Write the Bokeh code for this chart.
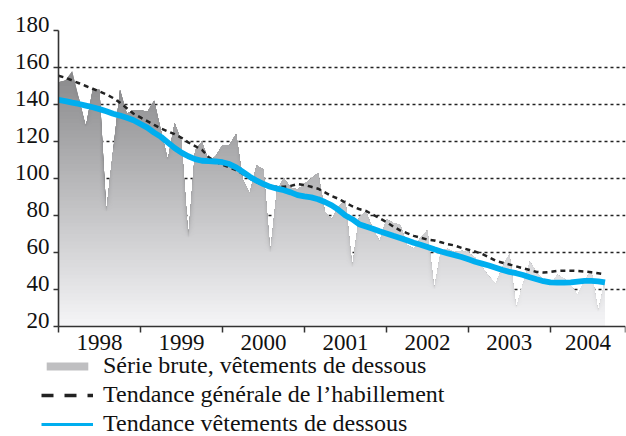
import numpy as np
from bokeh.plotting import figure
from bokeh.models import FixedTicker, Legend, LegendItem, Range1d, LinearAxis
from bokeh.embed import file_html
from bokeh.resources import INLINE

# ---- data (monthly, Jan 1998 .. Sep 2004) ----
years = ["1998", "1999", "2000", "2001", "2002", "2003", "2004"]
y_ticks = [20, 40, 60, 80, 100, 120, 140, 160, 180]

raw_underwear = [
    152, 153, 158, 143, 128, 148, 148, 82, 115, 148, 135, 137,
    137, 136, 142, 126, 110, 130, 120, 68, 115, 120, 109, 112,
    118, 118, 124, 99, 92, 107, 105, 60, 94, 100, 95, 94,
    97, 100, 103, 82, 78, 85, 88, 52, 79, 82, 73, 66,
    78, 76, 75, 64, 62, 68, 72, 40, 61, 62, 60, 61,
    60, 57, 52, 47, 43, 52, 59, 30, 43, 55, 49, 45,
    42, 48, 46, 42, 37, 45, 50, 28, 45,
]
trend_clothing = [
    155.5, 154.5, 153, 151.5, 150, 148.5, 147, 145.5, 143.5, 141, 138, 135,
    133, 131, 129, 127, 125.5, 124, 122, 119.5, 117.5, 115.5, 111.5, 109,
    107.5, 106, 104.5, 102.5, 100, 98, 96.5, 95.5, 95.5, 95.5, 96, 97,
    96.5, 95.5, 94.5, 92.5, 90.5, 89, 87, 85, 83.5, 82.5, 80.5, 78.5,
    76.5, 74, 72, 70.5, 69, 68, 67, 66.5, 65.5, 64.5, 63.8, 62.5,
    61.5, 60.5, 59.2, 57.5, 55.5, 54.5, 53.5, 52.5, 51.5, 50.5, 49.5, 49.2,
    49.5, 50, 50.2, 50.2, 50, 49.7, 49.3, 48.8, 48.2,
]
trend_underwear = [
    142.5, 141.8, 141, 140.3, 139.4, 138.5, 137.5, 136.3, 135, 134, 132.8, 131.5,
    129.5, 127.5, 124.8, 122.5, 119.5, 116.5, 114, 112, 110.5, 109.6, 109.4, 109.2,
    108.8, 107.8, 106, 103.5, 101, 98.8, 97, 95.5, 94.5, 93.7, 92.5, 91,
    90.3, 89.8, 88.8, 87.3, 85.5, 83, 80, 78, 75.3, 74, 72.8, 71.5,
    70.3, 69, 67.8, 66.6, 65.3, 64.2, 63, 61.7, 60.5, 59.5, 58.6, 57.6,
    56.3, 55, 54, 53, 51.8, 50.5, 49.5, 48.8, 47.8, 46.6, 45.5, 44.5,
    43.8, 43.7, 43.7, 43.8, 44.3, 44.7, 44.7, 44.4, 43.8,
]

FONT = "Liberation Serif, Times New Roman, DejaVu Serif, serif"

# layout: the frame covers the whole canvas so nothing (legend below the
# x axis, labels left of the y axis) is clipped; axes sit at fixed data spots.
W, H = 626, 436
AX_LEFT_PX, AX_BOTTOM_PX, AX_TOP_PX = 58, 326, 30
x_end = 83                                   # axis ends at Dec 2004 (month index)
plot_w = W - 1 - AX_LEFT_PX
x_start = -AX_LEFT_PX * x_end / plot_w
y_lo, y_hi = y_ticks[0], y_ticks[-1]
px_per_unit = (AX_BOTTOM_PX - AX_TOP_PX) / (y_hi - y_lo)
y_floor = y_lo - (H - AX_BOTTOM_PX) / px_per_unit
y_ceil = y_hi + AX_TOP_PX / px_per_unit
label_lift = 3.5                              # y labels sit slightly above ticks

months = np.arange(len(raw_underwear))
raw = np.array(raw_underwear, dtype=float)

p = figure(width=W, height=H, output_backend="svg", toolbar_location=None,
           x_range=Range1d(x_start, x_end), y_range=Range1d(y_floor, y_ceil),
           min_border_left=0, min_border_right=1, min_border_top=0,
           min_border_bottom=0)
p.outline_line_color = None
p.background_fill_color = "white"
p.xgrid.visible = False
p.ygrid.visible = False

# ---- horizontal dotted grid lines (between the axis ends) ----
grid_vals = y_ticks[1:-1]
p.segment(x0=[0] * len(grid_vals), x1=[x_end] * len(grid_vals), y0=grid_vals, y1=grid_vals,
          line_color="#222222", line_width=1.3, line_dash="3 3", level="underlay")

# ---- vertical gradient fill for raw series (stacked bands, darkest first) ----
levels = np.arange(20, 162, 2)
top_g, bot_g = 0x88, 0xf6
band_renderers = {}
for L in levels[::-1][:-1]:
    f = (L - 20) / 140.0
    g = int(round(bot_g - f * (bot_g - top_g)))
    col = "#%02x%02x%02x" % (g, g, min(255, g + 2))
    r = p.varea(x=months, y1=np.full(len(raw), float(y_lo)), y2=np.minimum(raw, L),
                fill_color=col, fill_alpha=1.0)
    band_renderers[int(L)] = r

# ---- trend lines ----
p.line(months, trend_clothing, line_color="#222222", line_width=2.5, line_dash="5 4")
p.line(months, trend_underwear, line_color="#00aeef", line_width=5.8)

# legend-only glyphs (no drawable points)
nan2 = [np.nan, np.nan]
leg_dash = p.line(nan2, nan2, line_color="#222222", line_width=3.5, line_dash="12 11")
leg_blue = p.line(nan2, nan2, line_color="#00aeef", line_width=3.2)

# ---- x axis ----
bounds = [12 * k for k in range(len(years))] + [x_end]
label_pos = [(bounds[k] + bounds[k + 1]) / 2 for k in range(len(years))]
xa = p.xaxis[0]
xa.fixed_location = y_lo
xa.bounds = (0, x_end)
xa.ticker = FixedTicker(ticks=label_pos, minor_ticks=bounds)
xa.major_label_overrides = {pos: yr for pos, yr in zip(label_pos, years)}
xa.major_tick_out = 0
xa.major_tick_in = 0
xa.minor_tick_out = 6
xa.minor_tick_in = 0
xa.minor_tick_line_color = "#333333"
xa.minor_tick_line_width = 1.5
xa.major_label_standoff = 2
xa.axis_line_color = "#333333"
xa.axis_line_width = 1.6
xa.major_label_text_font = FONT
xa.major_label_text_font_size = "23px"
xa.major_label_text_color = "#111111"

# ---- y axis: line + ticks ----
ya = p.yaxis[0]
ya.fixed_location = 0
ya.bounds = (y_lo, y_hi)
ya.ticker = FixedTicker(ticks=y_ticks)
ya.major_tick_out = 5
ya.major_tick_in = 0
ya.minor_tick_line_color = None
ya.axis_line_color = "#333333"
ya.axis_line_width = 1.6
ya.major_tick_line_color = "#333333"
ya.major_tick_line_width = 1.5
ya.major_label_text_color = None

# ---- y axis labels (slightly raised, as in the original) ----
lab_pos = [v + label_lift for v in y_ticks]
ylab = LinearAxis(fixed_location=0, ticker=FixedTicker(ticks=lab_pos),
                  major_label_overrides={lp: str(v) for lp, v in zip(lab_pos, y_ticks)},
                  axis_line_color=None, major_tick_line_color=None,
                  minor_tick_line_color=None, major_tick_out=5, major_tick_in=0,
                  major_label_standoff=4, major_label_text_font=FONT,
                  major_label_text_font_size="23px", major_label_text_color="#111111")
p.add_layout(ylab, "left")

# ---- legend ----
legend = Legend(items=[
    LegendItem(label="Série brute, vêtements de dessous", renderers=[band_renderers[90]]),
    LegendItem(label="Tendance générale de l\u2019habillement", renderers=[leg_dash]),
    LegendItem(label="Tendance vêtements de dessous", renderers=[leg_blue]),
], location=(41, -2), orientation="vertical", glyph_width=52, glyph_height=10,
    label_standoff=10, label_text_font=FONT, label_text_font_size="24px",
    label_text_color="#111111", label_height=29, spacing=0, padding=0, margin=0,
    border_line_color=None, background_fill_alpha=0)
p.add_layout(legend)

open("out.html", "w").write(file_html(p, INLINE))
